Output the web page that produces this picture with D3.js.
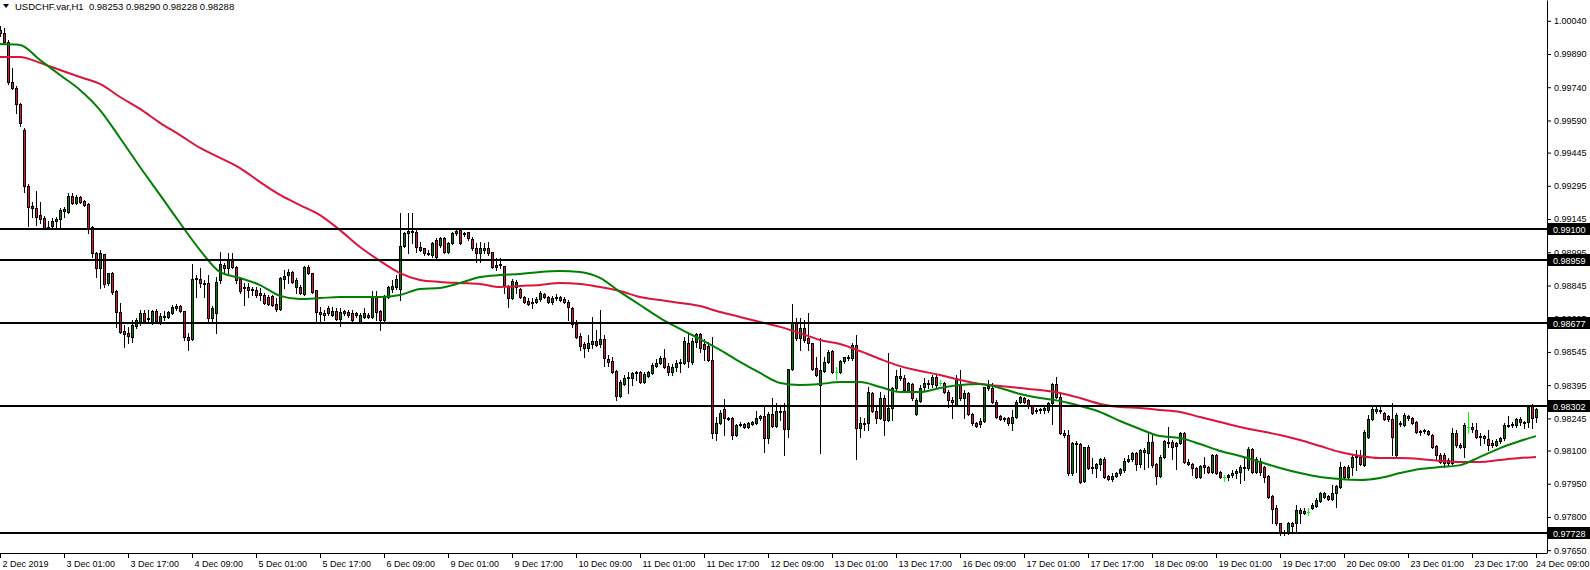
<!DOCTYPE html>
<html><head><meta charset="utf-8">
<script src="https://cdn.jsdelivr.net/npm/d3@7"></script>
<style>
body{margin:0;background:#fff;}
svg{display:block;}
text{font-family:'Liberation Sans',Arial,sans-serif;}
</style>
</head><body>
<svg id="chart" width="1590" height="570"></svg>
<script>
// ---------- data ----------
const symbol = "USDCHF.var,H1";
const timeLabels = ["2 Dec 2019","3 Dec 01:00","3 Dec 17:00","4 Dec 09:00","5 Dec 01:00","5 Dec 17:00",
  "6 Dec 09:00","9 Dec 01:00","9 Dec 17:00","10 Dec 09:00","11 Dec 01:00","11 Dec 17:00","12 Dec 09:00",
  "13 Dec 01:00","13 Dec 17:00","16 Dec 09:00","17 Dec 01:00","17 Dec 17:00","18 Dec 09:00","19 Dec 01:00",
  "19 Dec 17:00","20 Dec 09:00","23 Dec 01:00","23 Dec 17:00","24 Dec 09:00"];
const priceTicks = ["1.00040","0.99890","0.99740","0.99590","0.99445","0.99295","0.99145","0.98995",
  "0.98845","0.98695","0.98545","0.98395","0.98245","0.98100","0.97950","0.97800","0.97650"];
const levels = [0.99100, 0.98959, 0.98677, 0.98302, 0.97728];

// OHLC in points (1e-5)
const opens = [
99998,99985,99944,99764,99737,99664,99547,99294,99204,99195,
99163,99150,99109,99114,99136,99145,99181,99177,99249,99217,
99244,99226,99213,99109,98992,98924,98987,98856,98901,98820,
98725,98639,98630,98612,98662,98680,98721,98698,98680,98730,
98676,98703,98703,98721,98743,98752,98730,98612,98603,98874,
98874,98856,98856,98698,98721,98870,98937,98924,98956,98928,
98874,98834,98838,98829,98825,98811,98802,98793,98798,98761,
98739,98874,98892,98906,98838,98838,98807,98928,98901,98825,
98725,98721,98743,98712,98730,98694,98730,98725,98721,98721,
98680,98703,98712,98703,98798,98730,98689,98793,98829,98838,
98829,99023,99082,99086,99086,99019,99014,98992,98983,99050,
99028,99059,98996,99037,99082,99095,99082,99086,99055,99014,
98992,99014,99014,98996,98937,98937,98933,98843,98788,98838,
98829,98793,98775,98770,98770,98784,98807,98793,98770,98788,
98793,98784,98770,98743,98671,98617,98581,98563,98581,98594,
98581,98603,98513,98504,98459,98346,98400,98427,98427,98450,
98454,98409,98436,98450,98481,98495,98518,98481,98454,98477,
98495,98495,98585,98500,98590,98626,98581,98572,98509,98179,
98224,98287,98247,98247,98170,98220,98220,98206,98220,98224,
98247,98256,98156,98265,98211,98278,98278,98197,98468,98676,
98608,98653,98608,98585,98472,98396,98459,98500,98549,98454,
98454,98504,98518,98518,98576,98202,98224,98224,98360,98278,
98247,98337,98238,98292,98382,98436,98427,98373,98400,98265,
98323,98387,98400,98400,98432,98405,98405,98364,98328,98305,
98396,98337,98360,98265,98224,98220,98233,98391,98382,98319,
98256,98247,98247,98224,98251,98319,98337,98328,98301,98283,
98283,98283,98283,98314,98400,98342,98179,98170,97998,98134,
98129,97962,98116,98025,98021,98039,98062,97985,97971,97985,
97998,98012,98053,98062,98089,98039,98102,98089,98138,98039,
97985,98071,98138,98138,98120,98134,98179,98048,98039,98021,
97980,98034,98025,98003,98080,98003,97980,97980,97989,97998,
98003,98021,98021,98107,98003,98053,98025,97985,97894,97840,
97773,97727,97727,97773,97773,97831,97818,97822,97840,97849,
97872,97890,97894,97881,97908,97935,98025,97980,98025,98071,
98071,98034,98161,98242,98278,98283,98269,98256,98242,98080,
98224,98215,98256,98247,98229,98188,98188,98188,98170,98120,
98080,98080,98044,98044,98179,98125,98116,98206,98206,98192,
98165,98165,98152,98134,98125,98143,98156,98215,98215,98215,
98242,98229,98229,98301,98253];
const highs = [
100017,100008,99953,99827,99746,99669,99556,99303,99222,99272,
99222,99159,99136,99150,99154,99195,99199,99263,99263,99254,
99249,99231,99217,99114,98996,99005,98987,98901,98906,98825,
98766,98667,98658,98689,98698,98734,98734,98734,98734,98739,
98721,98730,98730,98757,98761,98757,98730,98630,98942,98892,
98924,98870,98892,98752,98883,98996,98946,98992,98992,98933,
98874,98856,98856,98838,98838,98834,98811,98802,98802,98788,
98883,98915,98919,98910,98879,98847,98933,98937,98901,98825,
98748,98734,98752,98748,98743,98743,98734,98734,98734,98725,
98721,98743,98721,98820,98820,98734,98802,98843,98870,98892,
99172,99086,99172,99172,99095,99041,99014,99005,99041,99059,
99064,99064,99041,99086,99100,99100,99086,99086,99064,99037,
99041,99037,99041,98996,98969,98969,98933,98847,98874,98870,
98834,98798,98788,98788,98793,98820,98811,98798,98798,98807,
98798,98793,98779,98748,98689,98630,98590,98621,98703,98644,
98734,98621,98531,98522,98463,98418,98441,98454,98454,98459,
98459,98454,98459,98495,98513,98527,98558,98495,98491,98509,
98513,98612,98630,98608,98630,98630,98603,98590,98612,98251,
98283,98332,98251,98251,98220,98229,98224,98229,98233,98278,
98260,98296,98274,98337,98314,98305,98314,98468,98761,98698,
98698,98689,98721,98585,98522,98608,98522,98554,98554,98477,
98509,98522,98531,98585,98621,98251,98247,98387,98364,98296,
98364,98351,98540,98387,98463,98472,98441,98409,98405,98337,
98396,98427,98418,98441,98441,98418,98409,98373,98342,98441,
98463,98373,98364,98269,98229,98247,98387,98418,98405,98328,
98260,98251,98251,98283,98328,98346,98342,98332,98305,98292,
98292,98301,98319,98405,98432,98360,98192,98192,98138,98143,
98134,98116,98125,98066,98044,98066,98071,97989,97998,98003,
98021,98066,98080,98093,98093,98107,98111,98179,98170,98044,
98080,98147,98206,98147,98138,98183,98183,98062,98044,98025,
98034,98071,98030,98084,98084,98007,97989,97994,98012,98016,
98034,98066,98116,98111,98071,98066,98030,97989,97899,97854,
97773,97741,97777,97777,97854,97840,97840,97840,97863,97885,
97913,97913,97899,97944,97944,98048,98030,98034,98080,98102,
98102,98192,98260,98296,98296,98301,98274,98260,98314,98269,
98233,98269,98260,98251,98233,98192,98197,98192,98174,98125,
98089,98089,98066,98202,98192,98134,98224,98274,98224,98224,
98179,98170,98192,98147,98152,98161,98224,98256,98229,98247,
98251,98233,98305,98310,98290];
const lows = [
99971,99935,99755,99732,99624,99565,99267,99114,99154,99118,
99127,99100,99100,99100,99100,99100,99154,99172,99213,99213,
99217,99204,99082,98974,98883,98834,98838,98847,98807,98658,
98630,98567,98585,98590,98653,98667,98676,98676,98671,98680,
98671,98689,98698,98716,98734,98725,98599,98554,98599,98793,
98838,98793,98685,98676,98630,98856,98901,98901,98924,98856,
98811,98757,98793,98802,98793,98779,98761,98757,98752,98730,
98734,98834,98856,98856,98811,98807,98802,98897,98811,98680,
98680,98689,98712,98707,98689,98662,98712,98703,98680,98703,
98676,98698,98698,98698,98689,98644,98680,98788,98816,98829,
98779,99019,98992,99037,98996,99001,98983,98983,98974,98969,
99019,98992,98992,99032,99073,99032,99068,99050,99005,98951,
98951,98992,98983,98924,98915,98924,98811,98748,98784,98811,
98788,98766,98757,98743,98766,98775,98788,98766,98761,98779,
98775,98766,98689,98658,98608,98554,98522,98549,98563,98572,
98567,98481,98481,98450,98328,98342,98396,98360,98396,98418,
98405,98405,98432,98445,98477,98491,98472,98441,98441,98459,
98454,98491,98477,98491,98567,98545,98509,98504,98156,98147,
98220,98170,98238,98152,98165,98211,98202,98202,98215,98220,
98238,98093,98134,98206,98206,98238,98080,98161,98463,98599,
98554,98590,98554,98463,98436,98089,98454,98495,98450,98423,
98450,98495,98509,98509,98062,98161,98192,98192,98274,98224,
98242,98170,98233,98238,98373,98418,98369,98369,98328,98260,
98319,98373,98382,98387,98387,98396,98360,98296,98247,98301,
98328,98247,98260,98215,98206,98206,98229,98373,98314,98247,
98238,98233,98215,98192,98247,98314,98314,98292,98265,98269,
98269,98269,98274,98220,98337,98174,98161,97989,97989,98003,
97953,97958,98016,97998,97980,98012,97976,97967,97962,97980,
97989,98003,98048,98053,98012,98025,98016,98025,98025,97949,
97980,98066,98116,98062,98016,98129,98044,98034,97989,97976,
97976,97998,97998,97998,97994,97976,97962,97967,97980,97976,
97953,97967,98012,97998,97998,97989,97958,97885,97773,97764,
97718,97718,97723,97727,97732,97773,97813,97809,97836,97845,
97867,97885,97876,97876,97845,97931,97976,97976,97989,98012,
98034,98030,98156,98238,98269,98269,98238,98233,98080,98071,
98211,98211,98238,98220,98179,98170,98179,98170,98111,98057,
98044,98025,98034,98039,98116,98111,98071,98179,98183,98156,
98125,98134,98102,98116,98120,98134,98147,98206,98206,98206,
98215,98202,98206,98202,98228];
const closes = [
99985,99944,99764,99737,99664,99579,99294,99199,99195,99154,
99145,99105,99105,99136,99145,99186,99190,99249,99217,99244,
99222,99208,99105,98992,98924,98992,98852,98901,98816,98725,
98635,98626,98617,98667,98689,98721,98685,98694,98730,98685,
98707,98707,98725,98748,98752,98730,98612,98599,98874,98879,
98856,98852,98698,98743,98861,98942,98924,98960,98928,98870,
98820,98838,98825,98825,98802,98802,98766,98761,98757,98739,
98879,98888,98906,98861,98870,98811,98928,98901,98816,98725,
98716,98712,98721,98730,98694,98725,98721,98712,98689,98712,
98712,98721,98703,98798,98725,98689,98798,98838,98843,98874,
99023,99082,99091,99091,99019,99005,98992,98987,99037,98974,
99059,98996,99037,99082,99091,99037,99077,99059,99014,98992,
99014,99005,98992,98928,98928,98942,98847,98788,98865,98861,
98793,98770,98761,98766,98784,98811,98793,98770,98788,98793,
98779,98770,98748,98671,98612,98572,98563,98585,98594,98576,
98603,98518,98500,98454,98346,98409,98427,98432,98450,98454,
98409,98445,98454,98486,98495,98518,98477,98454,98477,98495,
98500,98594,98504,98594,98626,98563,98558,98509,98179,98224,
98269,98247,98242,98170,98215,98215,98206,98224,98229,98247,
98256,98156,98265,98211,98278,98274,98197,98468,98676,98608,
98653,98599,98585,98468,98441,98463,98500,98545,98454,98454,
98504,98522,98522,98576,98202,98224,98220,98364,98278,98247,
98337,98238,98292,98382,98436,98427,98373,98405,98337,98328,
98382,98405,98405,98432,98396,98405,98364,98328,98319,98427,
98337,98360,98265,98224,98211,98233,98387,98382,98319,98251,
98242,98242,98224,98251,98319,98342,98319,98301,98269,98278,
98287,98292,98314,98400,98342,98179,98170,97998,98134,98129,
97958,98116,98021,98021,98039,98062,97980,97971,97985,97998,
98016,98053,98062,98089,98039,98102,98093,98138,98034,97985,
98071,98143,98134,98116,98134,98179,98048,98039,98021,97980,
98030,98025,98003,98080,97998,97980,97980,97989,97998,98007,
98025,98025,98107,98003,98062,98003,97980,97890,97836,97773,
97727,97732,97773,97759,97831,97818,97827,97822,97854,97876,
97908,97908,97881,97908,97940,98025,97980,98025,98071,98075,
98039,98183,98242,98287,98287,98278,98242,98242,98161,98260,
98220,98260,98247,98224,98183,98183,98192,98174,98116,98080,
98048,98044,98057,98179,98125,98116,98215,98206,98197,98161,
98161,98156,98125,98125,98143,98156,98215,98211,98220,98242,
98229,98224,98296,98247,98288];

// moving averages, sampled every 5 bars (last sample at bar 384), in points
const maFast = [99935,99931,99863,99795,99728,99637,99511,99380,99254,99127,
99005,98906,98879,98847,98798,98784,98788,98793,98793,98793,
98802,98829,98834,98856,98883,98892,98897,98906,98910,98906,
98879,98816,98757,98698,98649,98603,98554,98500,98450,98405,
98396,98400,98409,98409,98387,98364,98364,98382,98396,98400,
98382,98355,98337,98323,98301,98274,98233,98197,98165,98156,
98129,98098,98075,98048,98021,97998,97980,97971,97967,97976,
97998,98016,98025,98034,98071,98111,98143,98165];
const maSlow = [99877,99877,99850,99818,99786,99755,99696,99642,99579,99524,
99466,99421,99375,99312,99254,99208,99163,99095,99019,98956,
98901,98870,98861,98856,98852,98838,98843,98847,98856,98852,
98838,98820,98793,98779,98766,98752,98725,98703,98680,98658,
98630,98599,98581,98549,98513,98481,98459,98441,98418,98400,
98391,98382,98373,98360,98337,98310,98296,98292,98283,98274,
98251,98229,98206,98188,98170,98147,98120,98093,98075,98066,
98066,98062,98053,98048,98048,98057,98066,98071];
const maBars = d3.range(0, 381, 5).concat([384]);

// ---------- drawing ----------
const W = 1590, H = 570, plotRight = 1547, plotBottom = 553;
const BULL = "#008000", BEAR = "#DC143C", DOJI = "#00FF00";
const FONT = "'Liberation Sans',Arial,sans-serif";
const svg = d3.select("#chart");
svg.append("rect").attr("width", W).attr("height", H).attr("fill", "#fff");

const x = d3.scaleLinear().domain([0, 384]).range([0, 1536]);
const y = d3.scaleLinear().domain([0.976372, 1.001339]).range([plotBottom, 0]);

const bars = opens.map((o, i) => ({i, o: o / 1e5, h: highs[i] / 1e5, l: lows[i] / 1e5, c: closes[i] / 1e5}));

const plot = svg.append("g");
plot.append("clipPath").attr("id", "clip").append("rect")
  .attr("x", 0).attr("y", 0).attr("width", plotRight).attr("height", plotBottom);
const gC = plot.append("g").attr("clip-path", "url(#clip)").attr("shape-rendering", "crispEdges");

const cg = gC.selectAll("g.c").data(bars).join("g").attr("class", "c");
// wicks
cg.append("rect")
  .attr("x", d => Math.round(x(d.i)))
  .attr("y", d => Math.round(y(d.h)))
  .attr("width", 1)
  .attr("height", d => Math.max(1, Math.round(y(d.l)) - Math.round(y(d.h)) + 1))
  .attr("fill", d => d.o === d.c ? DOJI : "#000");
// bodies
cg.each(function(d) {
  const g = d3.select(this);
  const cx = Math.round(x(d.i));
  const top = Math.round(y(Math.max(d.o, d.c)));
  const bot = Math.round(y(Math.min(d.o, d.c)));
  if (d.o === d.c) {
    g.append("rect").attr("x", cx - 1).attr("y", top).attr("width", 3).attr("height", 1).attr("fill", DOJI);
    return;
  }
  g.append("rect").attr("x", cx - 1).attr("y", top).attr("width", 3).attr("height", bot - top + 1).attr("fill", "#000");
  if (bot - top >= 2) {
    g.append("rect").attr("x", cx).attr("y", top + 1).attr("width", 1).attr("height", bot - top - 1)
      .attr("fill", d.c > d.o ? BULL : BEAR);
  }
});

// moving averages
const line = d3.line().curve(d3.curveMonotoneX).x(d => x(d[0])).y(d => y(d[1] / 1e5));
const gMA = plot.append("g").attr("clip-path", "url(#clip)");
gMA.append("path").datum(maBars.map((b, k) => [b, maSlow[k]]))
  .attr("d", line).attr("fill", "none").attr("stroke", BEAR).attr("stroke-width", 2);
gMA.append("path").datum(maBars.map((b, k) => [b, maFast[k]]))
  .attr("d", line).attr("fill", "none").attr("stroke", BULL).attr("stroke-width", 2);

// horizontal levels
plot.append("g").selectAll("line").data(levels).join("line")
  .attr("x1", 0).attr("x2", plotRight)
  .attr("y1", d => Math.round(y(d))).attr("y2", d => Math.round(y(d)))
  .attr("stroke", "#000").attr("stroke-width", 2);

// right axis
const yAxis = d3.axisRight(y)
  .tickValues(priceTicks.map(Number))
  .tickFormat((d, i) => priceTicks[i])
  .tickSize(4).tickSizeOuter(0);
const gy = svg.append("g").attr("transform", `translate(${plotRight},0)`).call(yAxis);
gy.selectAll("text").attr("font-size", 9).attr("fill", "#000").attr("font-family", FONT);
gy.selectAll("line,path").attr("stroke", "#000");

// bottom axis
const xAxis = d3.axisBottom(x)
  .tickValues(d3.range(0, 385, 16))
  .tickFormat((d, i) => timeLabels[i])
  .tickSize(5).tickSizeOuter(0);
const gx = svg.append("g").attr("transform", `translate(0,${plotBottom})`).call(xAxis);
gx.select(".domain").remove();
gx.selectAll("text").attr("font-size", 9).attr("fill", "#000").attr("text-anchor", "start").attr("dx", 2)
  .attr("font-family", FONT);
// keep the last date label inside the picture
gx.selectAll(".tick").filter((d, i) => i === timeLabels.length - 1).select("text")
  .attr("text-anchor", "end").attr("dx", 0).attr("x", W - 1 - x(384));
gx.selectAll("line").attr("stroke", "#000");
svg.append("line").attr("x1", 0).attr("x2", plotRight).attr("y1", plotBottom + 0.5).attr("y2", plotBottom + 0.5)
  .attr("stroke", "#000");

// level labels
const lg = svg.append("g").selectAll("g").data(levels).join("g")
  .attr("transform", d => `translate(${plotRight + 1},${Math.round(y(d))})`);
lg.append("rect").attr("x", 0).attr("y", -6).attr("width", W - plotRight - 1).attr("height", 12).attr("fill", "#000");
lg.append("text").attr("x", 5).attr("y", 3.5).attr("fill", "#fff").attr("font-size", 9).attr("font-family", FONT)
  .text(d => d3.format(".5f")(d));

// title
const last = bars[bars.length - 1];
const f5 = d3.format(".5f");
svg.append("path").attr("d", "M3,4 L9,4 L6,8 Z").attr("fill", "#000");
svg.append("text").attr("x", 15).attr("y", 10).attr("font-size", 9.5).attr("fill", "#000").attr("font-family", FONT)
  .style("white-space", "pre")
  .text(`${symbol}  ${f5(last.o)} ${f5(last.h)} ${f5(last.l)} ${f5(last.c)}`);
</script>
</body></html>
